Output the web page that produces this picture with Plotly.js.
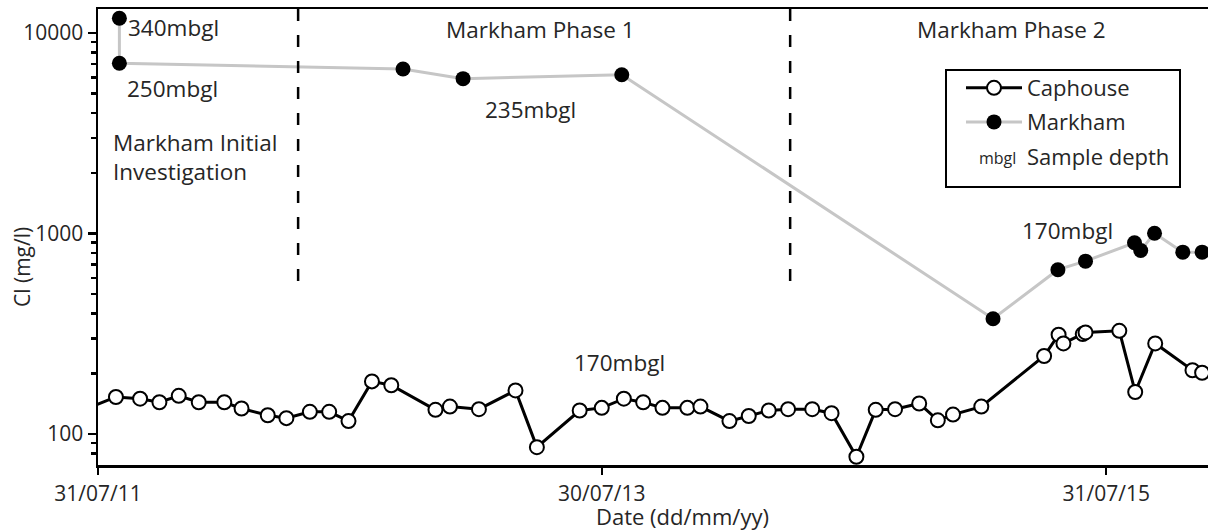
<!DOCTYPE html>
<html>
<head>
<meta charset="utf-8">
<script src="https://cdn.plot.ly/plotly-3.0.1.min.js"></script>
<style>
  html, body { margin: 0; padding: 0; background: #ffffff; }
  #chart { width: 1208px; height: 531px; }
</style>
</head>
<body>
<div id="chart"></div>
<script>
// ---- data ----
const capDates = ['2011-07-03','2011-08-26','2011-09-30','2011-10-28','2011-11-25',
  '2011-12-24','2012-01-30','2012-02-24','2012-04-02','2012-04-29',
  '2012-06-02','2012-06-30','2012-07-28','2012-08-31','2012-09-28',
  '2012-12-01','2012-12-22','2013-02-02','2013-03-27','2013-04-27',
  '2013-06-28','2013-07-30','2013-08-31','2013-09-28','2013-10-26',
  '2013-12-01','2013-12-20','2014-01-31','2014-02-28','2014-03-29',
  '2014-04-26','2014-05-31','2014-06-28','2014-08-03','2014-08-31',
  '2014-09-28','2014-11-02','2014-11-29','2014-12-21','2015-01-31',
  '2015-05-02','2015-05-23','2015-05-30','2015-06-27','2015-07-01',
  '2015-08-19','2015-09-11','2015-10-10','2015-12-03','2015-12-17'];
const capCl = [129,153,150,144,155,
  144,144,134,124,120,
  129,129,116,183,175,
  132,137,133,165,86,
  131,135,150,144,135,
  135,137,116,123,131,
  133,133,127,77,132,
  133,142,117,125,137,
  245,313,283,315,321,
  327,162,283,208,202];

const markDates = ['2011-08-31','2011-08-31','2012-10-15','2013-01-10','2013-08-28',
  '2015-02-17','2015-05-22','2015-07-01','2015-09-10','2015-09-19',
  '2015-10-09','2015-11-19','2015-12-17'];
const markCl = [11840,7060,6610,5920,6190,376,660,728,899,823,1003,807,807];

const phaseBoundaries = ['2012-05-16','2014-04-29'];

const xTickVals = ['2011-07-31','2013-07-30','2015-07-31'];
const xTickText = ['31/07/11','30/07/13','31/07/15'];
const yTickVals = [100,1000,10000];
const yTickText = ['100','1000','10000'];
const yMinorVals = [70,80,90,200,300,400,500,600,700,800,900,2000,3000,4000,5000,6000,7000,8000,9000];

// ---- plot ----
const textColor = '#262626';
const FONT = 'Open Sans, Noto Sans, sans-serif';
const PX = px => (px - 98) / 1110;      // pixel -> paper x
const PY = py => 1 - (py - 9) / 456;    // pixel -> paper y

const traces = [
  {
    x: capDates, y: capCl, name: 'Caphouse', type: 'scatter', mode: 'lines+markers',
    line: {color: '#000000', width: 3},
    marker: {symbol: 'circle', size: 14, color: '#ffffff', line: {color: '#000000', width: 2}},
    legendgroup: 'a'
  },
  {
    x: markDates, y: markCl, name: 'Markham', type: 'scatter', mode: 'lines+markers',
    line: {color: '#c6c6c6', width: 3},
    marker: {symbol: 'circle', size: 15, color: '#000000'},
    legendgroup: 'b'
  },
  {
    x: [null], y: [null], name: 'Sample depth', type: 'scatter', mode: 'markers',
    marker: {size: 1, color: 'rgba(0,0,0,0)'},
    legendgroup: 'c'
  }
];

const shapes = phaseBoundaries.map(d => ({
  type: 'line', xref: 'x', yref: 'paper', x0: d, x1: d, y0: 1, y1: 0.399,
  line: {color: '#000000', width: 2.5, dash: '12px,14px'}
}));
// legend frame
shapes.push({
  type: 'rect', xref: 'paper', yref: 'paper', layer: 'above',
  x0: PX(946), x1: PX(1180), y0: PY(187), y1: PY(70),
  line: {color: '#000000', width: 2}, fillcolor: 'rgba(255,255,255,0)'
});

function ann(text, px, py, xanchor, size, extra) {
  return Object.assign({
    text: text, xref: 'paper', yref: 'paper',
    x: PX(px), y: PY(py),
    xanchor: xanchor, yanchor: 'middle', showarrow: false,
    font: {family: FONT, size: size, color: textColor}
  }, extra || {});
}

const LBL = 22.5;
const annotations = [
  ann('340mbgl', 126, 28, 'left', LBL),
  ann('250mbgl', 125, 88, 'left', LBL),
  ann('Markham Initial<br>Investigation', 111, 157, 'left', LBL, {align: 'left'}),
  ann('Markham Phase 1', 540, 29, 'center', LBL),
  ann('235mbgl', 530, 110, 'center', LBL),
  ann('Markham Phase 2', 1011, 29, 'center', LBL),
  ann('170mbgl', 1067, 230, 'center', LBL),
  ann('170mbgl', 619, 362, 'center', LBL),
  ann('mbgl', 997, 158, 'center', 16),
  ann('Cl (mg/l)', 22, 267, 'center', 21, {textangle: -90}),
  ann('Date (dd/mm/yy)', 682, 516, 'center', 22)
];

const layout = {
  width: 1208, height: 531,
  margin: {l: 98, r: 0, t: 9, b: 66, pad: 0},
  paper_bgcolor: '#ffffff', plot_bgcolor: '#ffffff',
  font: {family: FONT, color: textColor, size: 21},
  showlegend: true,
  legend: {
    x: PX(961), y: PY(67), xanchor: 'left', yanchor: 'top',
    bgcolor: 'rgba(255,255,255,0)', borderwidth: 0,
    font: {family: FONT, size: 22, color: textColor},
    itemwidth: 56, tracegroupgap: 2.5, traceorder: 'grouped'
  },
  xaxis: {
    type: 'date', range: ['2011-07-31', '2015-12-25 12:00'],
    tickmode: 'array', tickvals: xTickVals, ticktext: xTickText,
    ticks: 'outside', ticklen: 7, tickwidth: 2.5, tickcolor: '#000000',
    showline: true, linecolor: '#000000', linewidth: 2.5, mirror: true,
    showgrid: false, zeroline: false, ticklabelstandoff: 1,
    tickfont: {family: FONT, size: 21, color: textColor}
  },
  yaxis: {
    type: 'log', range: [1.8454, 4.1197],
    tickmode: 'array', tickvals: yTickVals, ticktext: yTickText,
    ticks: 'outside', ticklen: 8, tickwidth: 2.5, tickcolor: '#000000',
    minor: {tickmode: 'array', tickvals: yMinorVals, ticks: 'outside', ticklen: 5, tickwidth: 2.5, tickcolor: '#000000', showgrid: false},
    showline: true, linecolor: '#000000', linewidth: 2.5,
    showgrid: false, zeroline: false,
    tickfont: {family: FONT, size: 21, color: textColor}
  },
  shapes: shapes,
  annotations: annotations
};

Plotly.newPlot('chart', traces, layout, {displayModeBar: false, staticPlot: true});
</script>
</body>
</html>
